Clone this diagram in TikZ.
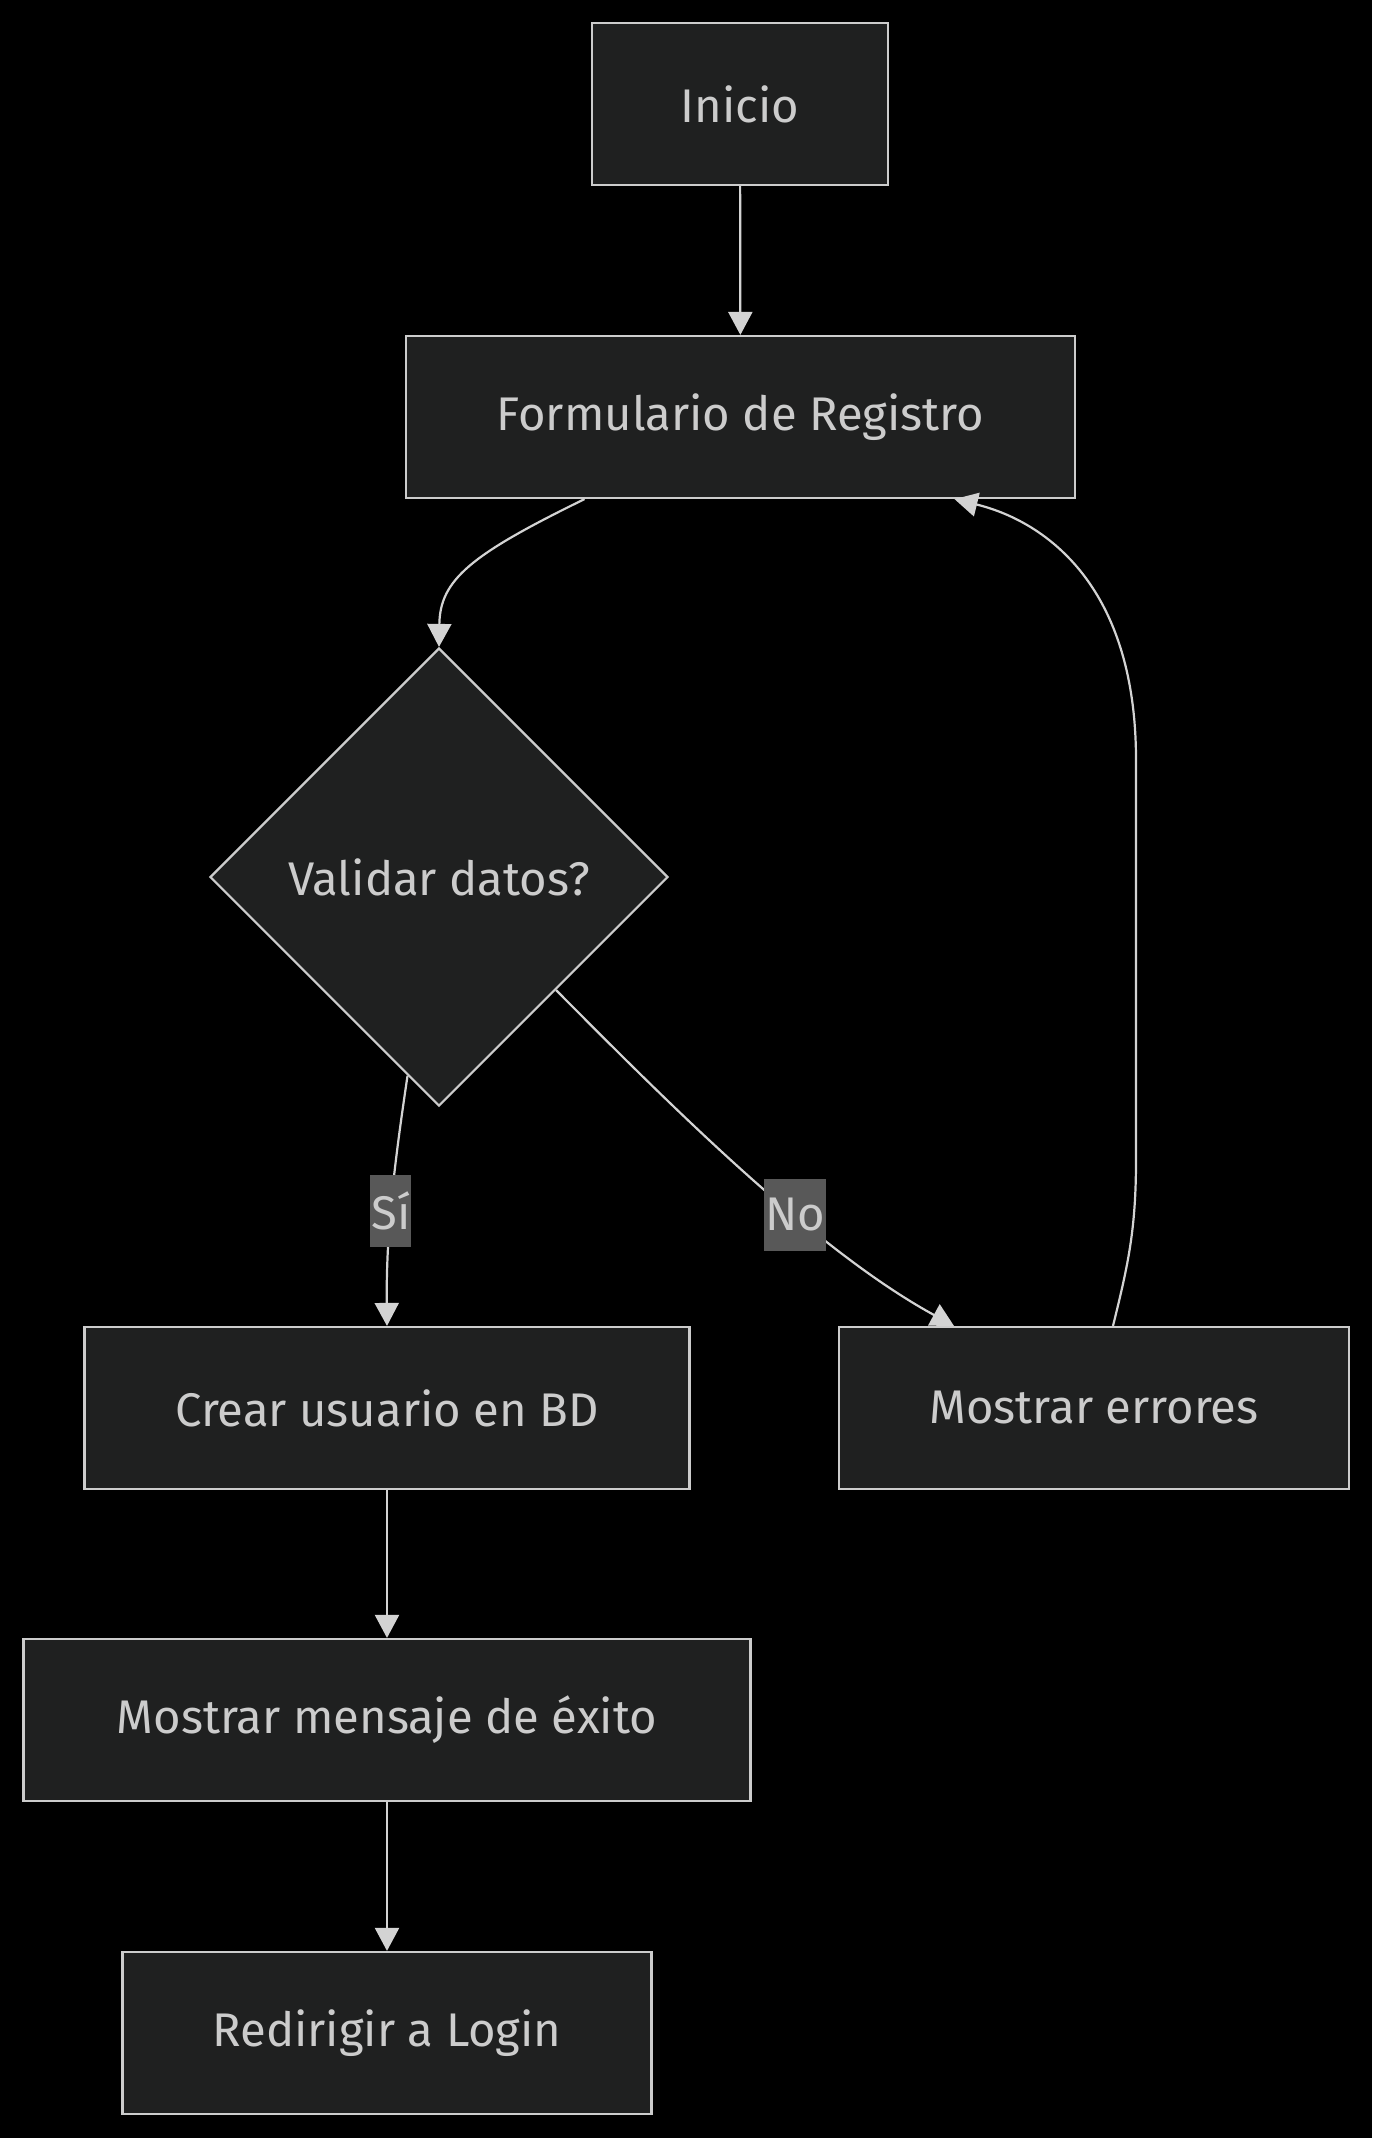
\documentclass[tikz,border=0pt]{standalone}
\usepackage{fontspec}
\setmainfont{Fira Sans}
\usetikzlibrary{shapes.geometric, arrows.meta}
\definecolor{nodefill}{HTML}{1F2020}
\definecolor{nodeline}{HTML}{CCCCCC}
\definecolor{edgeline}{HTML}{D3D3D3}
\definecolor{labelfill}{HTML}{585858}
\begin{document}
\begin{tikzpicture}[x=0.5pt, y=-0.5pt,
        process/.style={rectangle, draw=nodeline, line width=1.1pt, fill=nodefill, text=nodeline, minimum height=81pt, inner sep=0pt, font=\fontsize{23.6}{28}\selectfont},
        decision/.style={diamond, draw=nodeline, line width=1.1pt, fill=nodefill, text=nodeline, minimum width=229pt, minimum height=229pt, inner sep=0pt, font=\fontsize{23.6}{28}\selectfont},
        flow/.style={draw=edgeline, line width=1.1pt, -{Triangle[width=12pt, length=11.5pt]}},
        edge_label/.style={fill=labelfill, text=nodeline, inner xsep=0.5pt, inner ysep=0pt, minimum height=36pt, font=\fontsize{23.6}{28}\selectfont}
    ]
        % Background
        \fill[black] (0,0) rectangle (1372,2138);

        % Nodes top to bottom
        \node[process, minimum width=148pt] (inicio) at (740,104) {Inicio};
        \node[process, minimum width=334.5pt] (formulario) at (740.5,417) {Formulario de Registro};
        \node[decision] (validar) at (439,877) {Validar datos?};
        \node[process, minimum width=302.5pt] (crear) at (387,1408) {Crear usuario en BD};
        \node[process, minimum width=255pt] (errores) at (1094,1408) {Mostrar errores};
        \node[process, minimum width=363.5pt] (mensaje) at (387,1720) {Mostrar mensaje de éxito};
        \node[process, minimum width=264.5pt] (login) at (387,2033) {Redirigir a Login};

        % Edges
        \draw[flow] (inicio) -- (formulario);
        \draw[flow] ([xshift=-78pt]formulario.south) .. controls (470,555) and (440,580) .. (validar.north);
        \draw[flow] (validar.261.75) .. controls (395,1160) and (386,1230) .. (crear.north)
            node[edge_label, pos=0.56] (si) {Sí};
        \draw[flow] (validar.-44) .. controls (670,1105) and (815,1250) .. ([xshift=-70pt]errores.north)
            node[edge_label, pos=0.62] (no) {No};
        \draw[flow] ([xshift=9.5pt]errores.north) .. controls (1128,1265) and (1136,1230) .. (1136,1160)
            -- (1136,760) .. controls (1136,580) and (1040,520) .. ([xshift=107pt]formulario.south);
        \draw[flow] (crear) -- (mensaje);
        \draw[flow] (mensaje) -- (login);

    \end{tikzpicture}
\end{document}
